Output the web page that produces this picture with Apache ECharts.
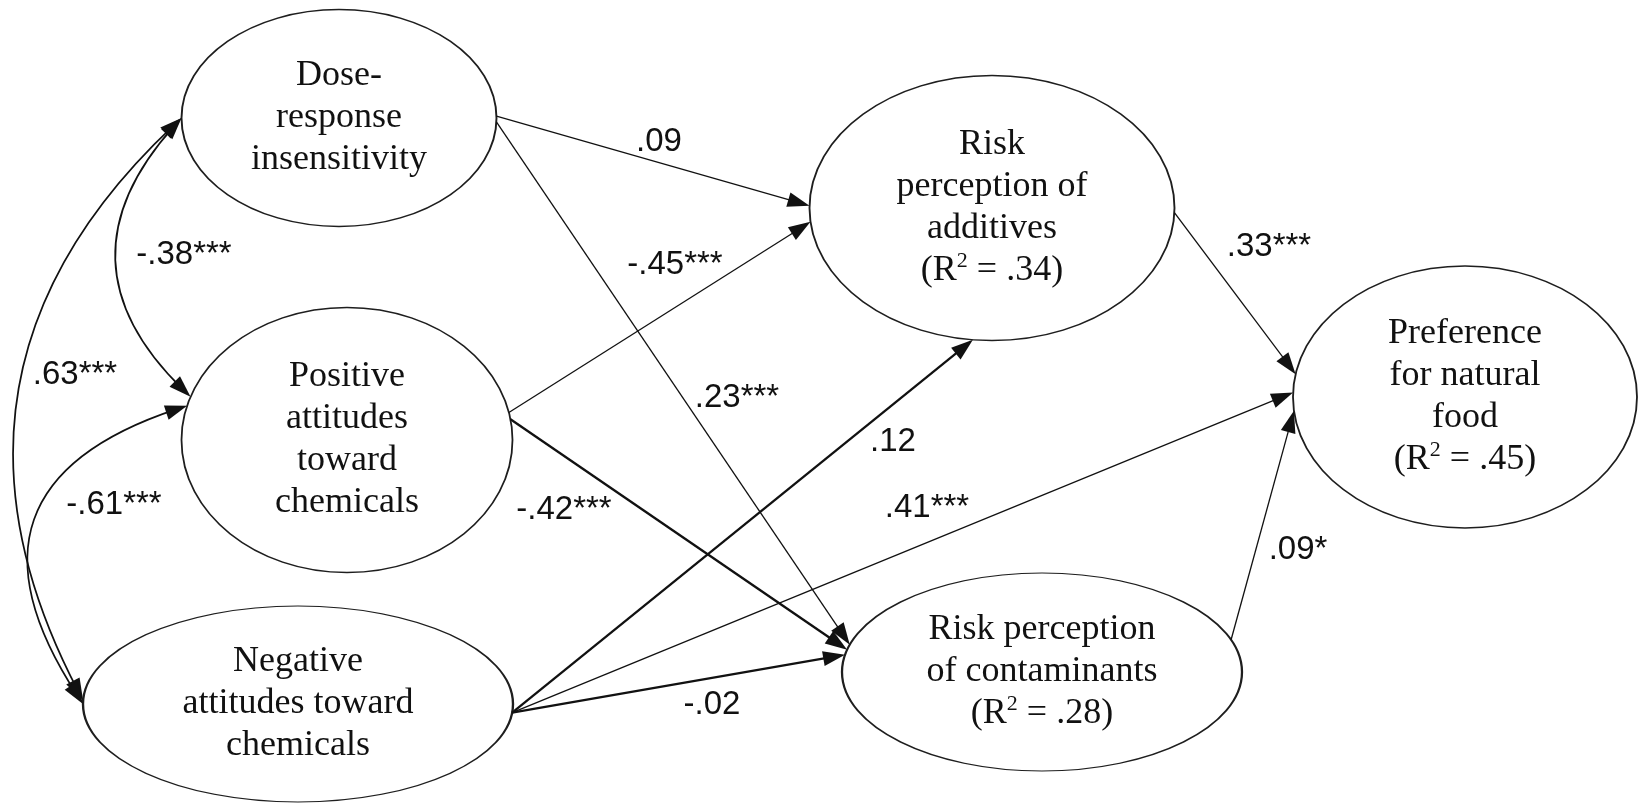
<!DOCTYPE html>
<html>
<head>
<meta charset="utf-8">
<title>Path model</title>
<script src="https://cdn.jsdelivr.net/npm/echarts@6/dist/echarts.min.js"></script>
<style>
    html, body { margin: 0; padding: 0; background: #fff; }
    #main { width: 1643px; height: 803px; }
</style>
</head>
<body>
<div id="main"></div>
<script>
// 潜变量（椭圆）
const nodeNames = [
    'Dose-\nresponse\ninsensitivity',
    'Positive\nattitudes\ntoward\nchemicals',
    'Negative\nattitudes toward\nchemicals',
    'Risk\nperception of\nadditives\n(R² = .34)',
    'Risk perception\nof contaminants\n(R² = .28)',
    'Preference\nfor natural\nfood\n(R² = .45)'
];
// 布局：椭圆中心和宽高（像素）
const nodeCenters = [[339, 118], [347, 440], [298, 704], [992, 208], [1042, 672], [1465, 397]];
const nodeSizes = [[315, 217], [331, 265], [430, 196], [365, 265], [400, 198], [344, 262]];

// 单向路径
const pathFrom = [0, 0, 1, 1, 2, 2, 2, 3, 4];
const pathTo = [3, 4, 3, 4, 3, 5, 4, 5, 5];
const pathCoefs = ['.09', '.23***', '-.45***', '-.42***', '.12', '.41***', '-.02', '.33***', '.09*'];
const pathBold = [false, false, false, true, true, false, true, false, false];
// 箭头在椭圆上的角度（度）
const pathFromAngle = [-1, 2, -12, -9, 5, 5, 5, 2, -19];
const pathToAngle = [181, 196, 174, 193, 96, 182, 190, 190, 174];
const pathLabelPos = [[659, 142], [737, 398], [675, 265], [564, 510], [893, 442], [927, 508], [712, 705], [1269, 247], [1298, 550]];

// 相关（双向弧线）
const corrA = [0, 0, 1];
const corrB = [1, 2, 2];
const corrCoefs = ['-.38***', '.63***', '-.61***'];
const corrAngleA = [180, 180, 195];
const corrAngleB = [199, 182, 180];
const corrCurve = [-0.48, -0.38, -0.65];
const corrLabelPos = [[184, 255], [75, 375], [114, 505]];

const ARROW = [15, 22];
const ELLIPSE = 'path://M0,50 C0,22.4 22.4,0 50,0 C77.6,0 100,22.4 100,50 C100,77.6 77.6,100 50,100 C22.4,100 0,77.6 0,50 Z';

function pointOn(i, deg) {
    const t = deg * Math.PI / 180;
    return [
        nodeCenters[i][0] + nodeSizes[i][0] / 2 * Math.cos(t),
        nodeCenters[i][1] + nodeSizes[i][1] / 2 * Math.sin(t)
    ];
}

// 把端点往回缩，让三角箭头的尖刚好碰到椭圆
function pullBack(p, toward, d) {
    const dx = toward[0] - p[0];
    const dy = toward[1] - p[1];
    const len = Math.hypot(dx, dy);
    return [p[0] + dx / len * d, p[1] + dy / len * d];
}

function ctrlPoint(p1, p2, c) {
    return [
        (p1[0] + p2[0]) / 2 - (p1[1] - p2[1]) * c,
        (p1[1] + p2[1]) / 2 - (p2[0] - p1[0]) * c
    ];
}

const pathLines = pathFrom.map((f, i) => {
    const p1 = pointOn(f, pathFromAngle[i]);
    const p2 = pointOn(pathTo[i], pathToAngle[i]);
    return {
        coords: [p1, pullBack(p2, p1, ARROW[1] / 2)],
        lineStyle: { width: pathBold[i] ? 2.3 : 1.3 }
    };
});

const corrLines = corrA.map((a, i) => {
    const p1 = pointOn(a, corrAngleA[i]);
    const p2 = pointOn(corrB[i], corrAngleB[i]);
    const cp = ctrlPoint(p1, p2, corrCurve[i]);
    return {
        coords: [pullBack(p1, cp, ARROW[1] / 2), pullBack(p2, cp, ARROW[1] / 2)],
        lineStyle: { curveness: corrCurve[i] }
    };
});

const labelData = pathCoefs.map((t, i) => ({ name: t, value: pathLabelPos[i] }))
    .concat(corrCoefs.map((t, i) => ({ name: t, value: corrLabelPos[i] })));

const chart = echarts.init(document.getElementById('main'));
chart.setOption({
    animation: false,
    backgroundColor: '#fff',
    grid: { left: 0, right: 0, top: 0, bottom: 0 },
    xAxis: { type: 'value', min: 0, max: 1643, show: false },
    yAxis: { type: 'value', min: 0, max: 803, inverse: true, show: false },
    series: [
        {
            type: 'scatter',
            silent: true,
            symbol: ELLIPSE,
            data: nodeNames.map((name, i) => ({
                name: name,
                value: nodeCenters[i],
                symbolSize: nodeSizes[i]
            })),
            itemStyle: { color: '#fff', borderColor: '#1e1e1e', borderWidth: 1.6, opacity: 1 },
            label: {
                show: true,
                position: 'inside',
                // R² 用上标的 2
                formatter: p => p.name.replace('²', '{s|2}'),
                fontFamily: '"Liberation Serif", "Times New Roman", serif',
                fontSize: 36,
                lineHeight: 42,
                color: '#111',
                rich: {
                    s: {
                        fontFamily: '"Liberation Serif", "Times New Roman", serif',
                        fontSize: 22,
                        lineHeight: 28,
                        verticalAlign: 'top',
                        color: '#111'
                    }
                }
            },
            emphasis: { disabled: true },
            z: 2
        },
        {
            type: 'lines',
            coordinateSystem: 'cartesian2d',
            silent: true,
            symbol: ['none', 'triangle'],
            symbolSize: [ARROW, ARROW],
            lineStyle: { color: '#111', width: 1.3, opacity: 1, curveness: 0 },
            data: pathLines,
            z: 3
        },
        {
            type: 'lines',
            coordinateSystem: 'cartesian2d',
            silent: true,
            symbol: ['triangle', 'triangle'],
            symbolSize: [ARROW, ARROW],
            lineStyle: { color: '#111', width: 1.7, opacity: 1 },
            data: corrLines,
            z: 3
        },
        {
            type: 'scatter',
            silent: true,
            symbolSize: 0,
            data: labelData,
            itemStyle: { opacity: 1 },
            label: {
                show: true,
                position: 'inside',
                formatter: p => p.name,
                fontFamily: '"Liberation Sans", Arial, sans-serif',
                fontSize: 33,
                color: '#111',
                opacity: 1
            },
            emphasis: { disabled: true },
            z: 4
        }
    ]
});
</script>
</body>
</html>
